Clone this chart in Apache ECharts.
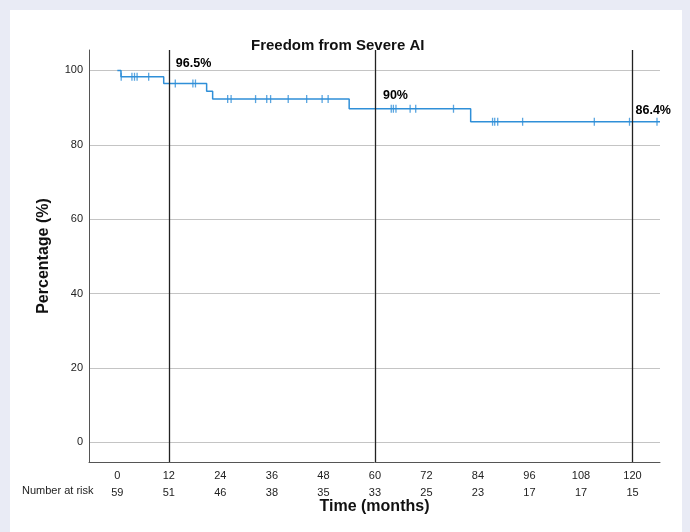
<!DOCTYPE html>
<html>
<head>
<meta charset="utf-8">
<script src="https://cdn.jsdelivr.net/npm/echarts@6/dist/echarts.min.js"></script>
<style>
  html, body { margin: 0; padding: 0; background: #e9ebf5; }
  #panel { position: absolute; left: 10px; top: 10px; width: 672px; height: 522px; background: #ffffff; }
  #chart { position: absolute; left: 0; top: 0; width: 690px; height: 532px; }
</style>
</head>
<body>
<div id="panel"></div>
<div id="chart"></div>
<script>
// Kaplan-Meier step curve (time in months, survival %)
const stepTimes  = [0, 0.85, 10.8, 20.8, 22.2, 54.0, 82.3, 126.4];
const stepValues = [100, 98.3, 96.5, 94.4, 92.3, 89.7, 86.2, 86.2];
// censored observations (time, survival level at that time)
const censorTimes  = [0.9, 3.4, 4.0, 4.6, 7.3, 13.5, 17.6, 18.2, 25.7, 26.5, 32.2, 34.8, 35.7, 39.8, 44.1, 47.7, 49.1,
                      63.8, 64.3, 64.9, 68.2, 69.5, 78.3, 87.4, 87.9, 88.6, 94.4, 111.1, 119.3, 125.7];
const censorValues = [98.3, 98.3, 98.3, 98.3, 98.3, 96.5, 96.5, 96.5, 92.3, 92.3, 92.3, 92.3, 92.3, 92.3, 92.3, 92.3, 92.3,
                      89.7, 89.7, 89.7, 89.7, 89.7, 89.7, 86.2, 86.2, 86.2, 86.2, 86.2, 86.2, 86.2];
// x ticks and number at risk
const xTicks = [0, 12, 24, 36, 48, 60, 72, 84, 96, 108, 120];
const atRisk = [59, 51, 46, 38, 35, 33, 25, 23, 17, 17, 15];
const yTicks = [0, 20, 40, 60, 80, 100];
// reference lines and their annotations
const refTimes  = [12, 60, 120];
const refValues = [96.5, 90, 86.4];
const refLabels = ['96.5%', '90%', '86.4%'];
const refLabelOffsets = [[7, -20], [8, -12], [3, -10]];

const blue = '#2f8fd8';
const FONT = 'Liberation Sans, Arial, sans-serif';
const chart = echarts.init(document.getElementById('chart'), null, { renderer: 'canvas' });

const option = {
  animation: false,
  backgroundColor: 'transparent',
  textStyle: { fontFamily: FONT },
  title: {
    text: 'Freedom from Severe AI',
    left: 246, top: 33,
    textStyle: { fontSize: 15, fontWeight: 'bold', color: '#111', fontFamily: FONT }
  },
  grid: { left: 89, right: 30, top: 50, bottom: 70, containLabel: false },
  xAxis: {
    type: 'value', min: -6.6, max: 126.4,
    name: 'Time (months)', nameLocation: 'middle', nameGap: 37, nameMoveOverlap: false,
    nameTextStyle: { fontSize: 16, fontWeight: 'bold', color: '#111' },
    axisLine: { show: true, onZero: false, lineStyle: { color: '#555', width: 1 } },
    axisTick: { show: false, customValues: xTicks },
    splitLine: { show: false },
    axisLabel: {
      customValues: xTicks,
      margin: 5,
      fontSize: 11, color: '#222', lineHeight: 17,
      formatter: function (v) { const i = xTicks.indexOf(v); return v + '\n' + (i >= 0 ? atRisk[i] : ''); }
    }
  },
  yAxis: {
    type: 'value', min: -5.3, max: 105.5,
    name: 'Percentage (%)', nameLocation: 'middle', nameGap: 37, nameMoveOverlap: false,
    nameTextStyle: { fontSize: 16, fontWeight: 'bold', color: '#111' },
    axisLine: { show: true, onZero: false, lineStyle: { color: '#555', width: 1 } },
    axisTick: { show: false, customValues: yTicks },
    axisLabel: { customValues: yTicks, margin: 6, fontSize: 11, color: '#222' },
    splitLine: { show: true, lineStyle: { color: '#c4c4c4', width: 1 } }
  },
  graphic: [
    { type: 'text', left: 22, top: 485, style: { text: 'Number at risk', fontSize: 11, fill: '#222', fontFamily: FONT } }
  ],
  series: [
    {
      type: 'line', step: 'end', symbol: 'none',
      data: stepTimes.map((t, i) => [t, stepValues[i]]),
      lineStyle: { color: blue, width: 1.5 },
      markLine: {
        silent: true, symbol: 'none', label: { show: false },
        lineStyle: { color: '#222', width: 1.3, type: 'solid' },
        data: refTimes.map(t => ({ xAxis: t }))
      },
      z: 3
    },
    {
      type: 'scatter', symbol: 'rect', symbolSize: [1.3, 8],
      itemStyle: { color: blue },
      data: censorTimes.map((t, i) => [t, censorValues[i]]),
      z: 4
    },
    {
      type: 'scatter', symbol: 'circle', symbolSize: 0.01,
      itemStyle: { color: '#000', opacity: 1 },
      data: refTimes.map((t, i) => ({ value: [t, refValues[i]], label: { offset: refLabelOffsets[i] } })),
      label: {
        show: true, position: 'right', distance: 0, opacity: 1,
        formatter: function (p) { return refLabels[p.dataIndex]; },
        fontSize: 12.5, fontWeight: 'bold', color: '#000'
      },
      z: 5
    }
  ]
};
chart.setOption(option);
</script>
</body>
</html>
